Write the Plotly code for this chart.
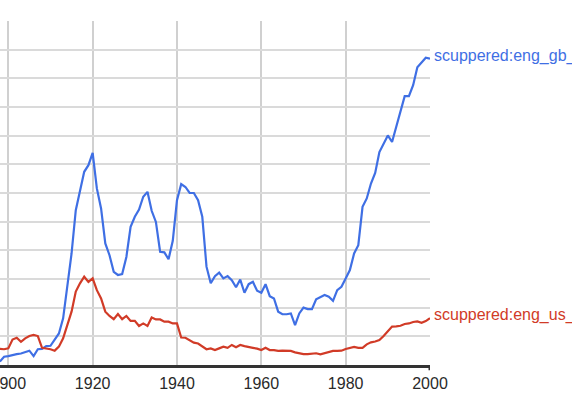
import plotly.graph_objects as go

# Google Ngram style: "scuppered", British vs American English corpus
# values are in gridline units (the y axis labels are cropped in the original)
years = list(range(1898, 2001))

gb_values = [
    0.12, 0.29, 0.31, 0.35, 0.38, 0.40, 0.44, 0.50, 0.31, 0.55,
    0.56, 0.66, 0.67, 0.87, 1.10, 1.63, 2.73, 3.89, 5.40, 6.10,
    6.74, 6.97, 7.40, 6.16, 5.46, 4.24, 3.83, 3.25, 3.14, 3.17,
    3.77, 4.82, 5.17, 5.42, 5.87, 6.04, 5.38, 4.99, 3.95, 3.93,
    3.69, 4.33, 5.75, 6.31, 6.21, 6.00, 6.00, 5.75, 5.17, 3.43,
    2.85, 3.10, 3.22, 3.02, 3.10, 2.96, 2.71, 2.98, 2.52, 2.82,
    2.90, 2.59, 2.52, 2.82, 2.40, 2.32, 1.86, 1.77, 1.77, 1.80,
    1.39, 1.80, 2.00, 1.95, 1.95, 2.29, 2.36, 2.44, 2.38, 2.24,
    2.61, 2.73, 3.02, 3.31, 3.89, 4.18, 5.52, 5.81, 6.33, 6.70,
    7.43, 7.72, 8.01, 7.78, 8.30, 8.88, 9.38, 9.38, 9.76, 10.39,
    10.57, 10.72, 10.69,
]

us_values = [
    0.56, 0.55, 0.58, 0.89, 0.95, 0.81, 0.93, 1.01, 1.05, 1.01,
    0.60, 0.58, 0.55, 0.50, 0.64, 0.93, 1.39, 1.86, 2.56, 2.85,
    3.08, 2.90, 3.02, 2.61, 2.32, 1.86, 1.71, 1.60, 1.78, 1.60,
    1.71, 1.54, 1.54, 1.36, 1.45, 1.36, 1.66, 1.59, 1.59, 1.51,
    1.51, 1.45, 1.45, 0.96, 0.95, 0.87, 0.78, 0.75, 0.64, 0.55,
    0.58, 0.52, 0.58, 0.64, 0.60, 0.70, 0.62, 0.70, 0.66, 0.64,
    0.60, 0.57, 0.52, 0.60, 0.52, 0.52, 0.49, 0.50, 0.50, 0.49,
    0.44, 0.41, 0.38, 0.38, 0.39, 0.41, 0.37, 0.41, 0.44, 0.49,
    0.49, 0.50, 0.56, 0.59, 0.63, 0.60, 0.60, 0.72, 0.79, 0.82,
    0.87, 1.01, 1.16, 1.34, 1.35, 1.37, 1.43, 1.45, 1.50, 1.52,
    1.47, 1.53, 1.63,
]

series_names = ["scuppered:eng_gb_2012", "scuppered:eng_us_2012"]
colors = ["#3f6fe4", "#d13b27"]
FONT = "Arial, Liberation Sans, sans-serif"

fig = go.Figure()
for name, vals, col in zip(series_names, [gb_values, us_values], colors):
    fig.add_trace(go.Scatter(x=years, y=vals, mode="lines", name=name,
                             line=dict(color=col, width=2.2), hoverinfo="x+y"))
    # label at the end of each line, outside the plot
    fig.add_annotation(x=years[-1], y=vals[-1], text=name, showarrow=False,
                       xanchor="left", yanchor="middle", xshift=2, yshift=3,
                       font=dict(family=FONT, size=16, color=col))

fig.update_layout(
    width=572, height=400,
    margin=dict(l=0, r=142, t=21, b=35, autoexpand=False),
    plot_bgcolor="white", paper_bgcolor="white",
    showlegend=False,
    font=dict(family=FONT, size=16, color="#333"),
)
fig.update_xaxes(range=[1898.03, 2000], tickvals=[1900, 1920, 1940, 1960, 1980, 2000],
                 automargin=False, ticklabeloverflow="allow",
                 showgrid=True, gridcolor="#d0d0d0", gridwidth=1.5,
                 showline=True, linecolor="#333", linewidth=3,
                 ticks="outside", ticklen=2, tickcolor="white",
                 zeroline=False, tickfont=dict(size=16, color="#2a2a2a"))
fig.update_yaxes(range=[0, 12], dtick=1, showticklabels=False, automargin=False,
                 showgrid=True, gridcolor="#dadada", gridwidth=1.5,
                 zeroline=False)
# little tick mark at the right end of the axis
fig.add_shape(type="line", xref="x", yref="paper", x0=2000, x1=2000, y0=0, y1=-0.015,
              line=dict(color="#333", width=3))

# drop the default page margin so the chart sits at the window's corner
fig.write_html("out.html", config={"displayModeBar": False},
               post_script="document.body.style.margin = '0';")
